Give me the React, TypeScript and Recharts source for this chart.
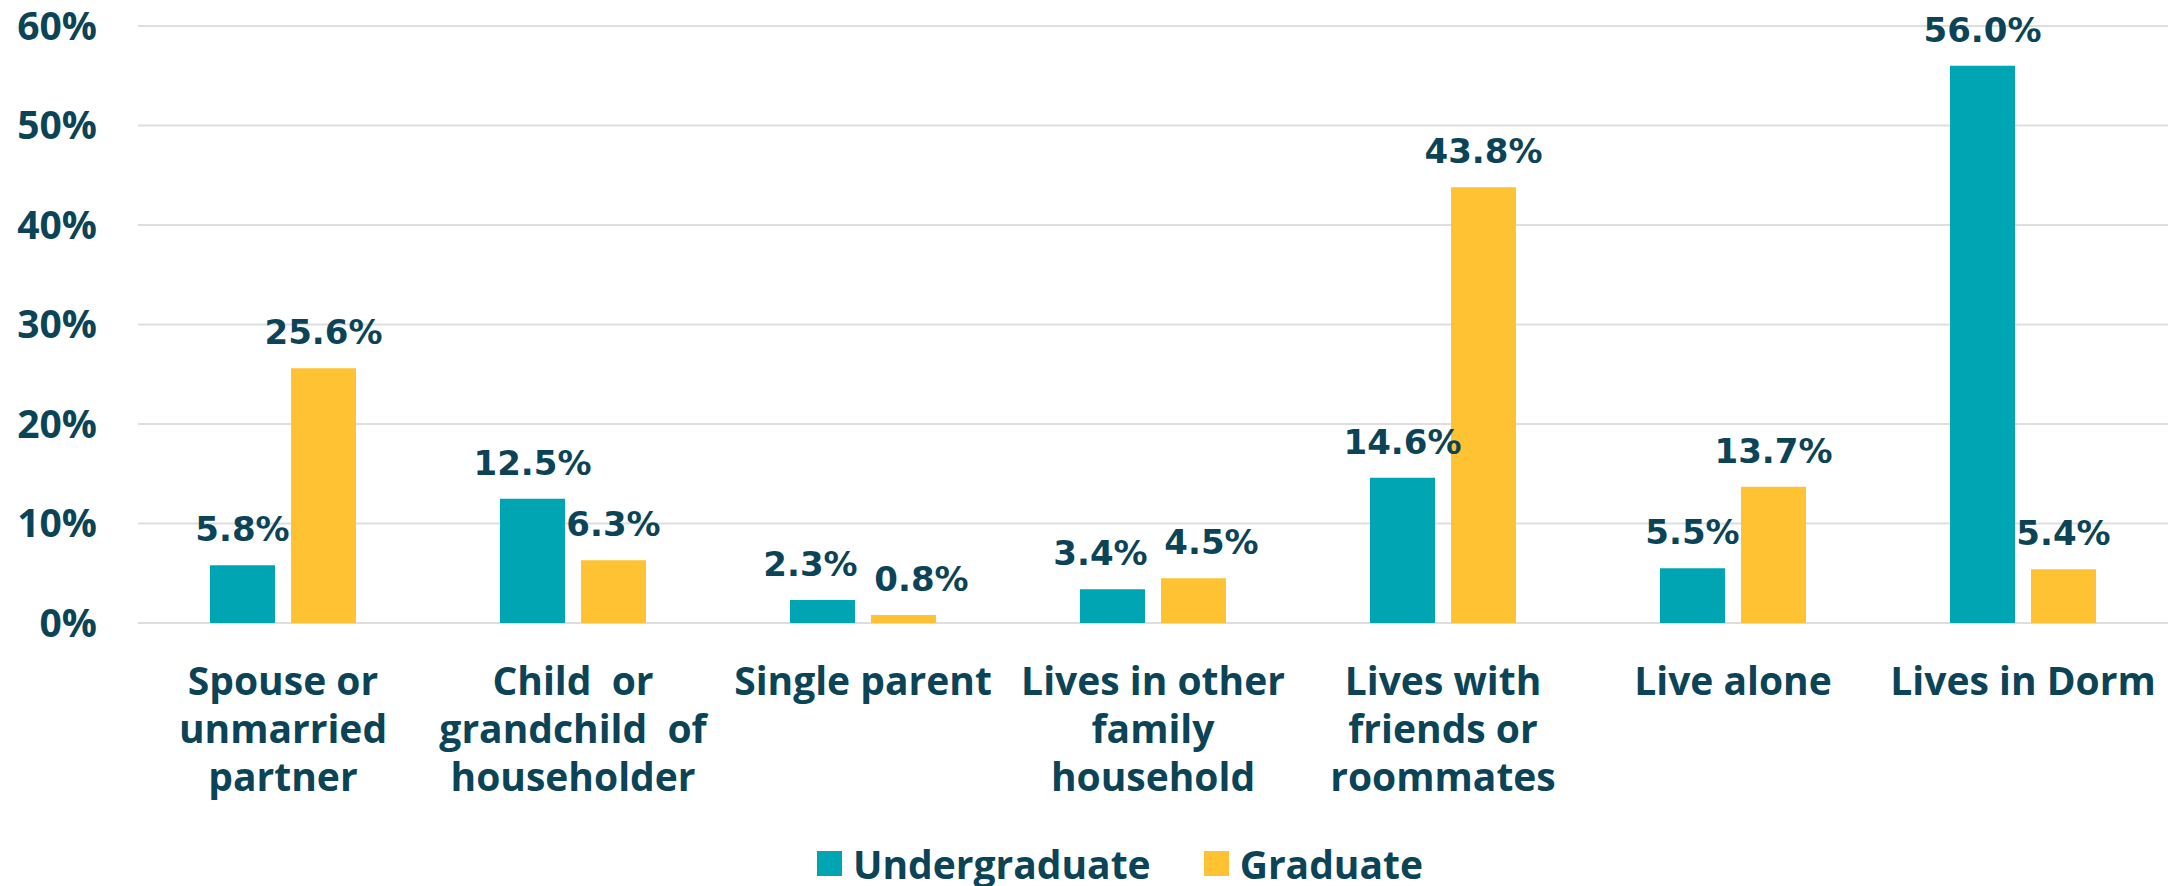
import React from "react";
import { BarChart, Bar, XAxis, YAxis, CartesianGrid, Legend, LabelList } from "recharts";

const categories = [
  "Spouse or\nunmarried\npartner",
  "Child  or\ngrandchild  of\nhouseholder",
  "Single parent",
  "Lives in other\nfamily\nhousehold",
  "Lives with\nfriends or\nroommates",
  "Live alone",
  "Lives in Dorm",
];
const undergraduate = [5.8, 12.5, 2.3, 3.4, 14.6, 5.5, 56.0];
const graduate = [25.6, 6.3, 0.8, 4.5, 43.8, 13.7, 5.4];
const yTicks = [0, 10, 20, 30, 40, 50, 60];
const seriesOrder = ["Undergraduate", "Graduate"];

const TEAL = "#00a5b4";
const GOLD = "#fec232";
const TEXT = "#0c4457";
const SANS = "'Open Sans', sans-serif";

const chartData = categories.map((name, i) => ({
  name,
  undergraduate: undergraduate[i],
  graduate: graduate[i],
}));

function CategoryTick({ x, y, payload }: any) {
  const lines = String(payload.value).split("\n");
  return (
    <text
      x={x}
      y={y}
      textAnchor="middle"
      fill={TEXT}
      fontFamily={SANS}
      fontWeight={700}
      fontSize={39}
      style={{ whiteSpace: "pre" }}
    >
      {lines.map((line, i) => (
        <tspan key={i} x={x} y={y + 72 + i * 48}>
          {line}
        </tspan>
      ))}
    </text>
  );
}

function LegendContent({ payload }: any) {
  const items = [...(payload ?? [])].sort(
    (a: any, b: any) => seriesOrder.indexOf(a.value) - seriesOrder.indexOf(b.value)
  );
  return (
    <div
      style={{
        display: "flex",
        justifyContent: "center",
        alignItems: "center",
        height: 46,
        paddingLeft: 72,
        fontFamily: SANS,
        fontWeight: 700,
        fontSize: 39,
        color: TEXT,
      }}
    >
      {items.map((entry: any, i: number) => (
        <div
          key={entry.value}
          style={{ display: "flex", alignItems: "center", marginRight: i < items.length - 1 ? 53 : 0 }}
        >
          <span style={{ width: 25, height: 25, background: entry.color, marginRight: 11 }} />
          <span>{entry.value}</span>
        </div>
      ))}
    </div>
  );
}

// value label above a bar; pushed sideways when it would collide with the neighbour's label
function BarLabel({ x, y, width, value, index, first }: any) {
  const other = first ? graduate[index] : undergraduate[index];
  const clash = Math.abs(other - Number(value)) < 3.5;
  const dx = clash ? (first ? -12 : 18) : 0;
  return (
    <text
      x={Number(x) + Number(width) / 2 + dx}
      y={Number(y) - 24}
      textAnchor="middle"
      fill={TEXT}
      fontFamily="'DejaVu Sans', sans-serif"
      fontWeight={700}
      fontSize={34}
    >
      {`${Number(value).toFixed(1)}%`}
    </text>
  );
}

export default function App() {
  return (
    <div style={{ position: "absolute", left: 0, top: 0, background: "#fff" }}>
      <BarChart
        width={2171}
        height={886}
        data={chartData}
        margin={{ top: 26, right: 3, left: 0, bottom: 0 }}
        barSize={65}
        barGap={16}
      >
        <CartesianGrid vertical={false} stroke="#dedede" strokeWidth={2} />
        <YAxis
          width={138}
          domain={[0, 60]}
          ticks={yTicks}
          tickFormatter={(v) => `${v}%`}
          axisLine={false}
          tickLine={false}
          tickSize={0}
          tickMargin={41}
          tick={{ fill: TEXT, fontFamily: SANS, fontWeight: 700, fontSize: 39 }}
        />
        <XAxis
          dataKey="name"
          height={217}
          interval={0}
          axisLine={false}
          tickLine={false}
          tickSize={0}
          tickMargin={0}
          tick={<CategoryTick />}
        />
        <Legend verticalAlign="bottom" content={<LegendContent />} />
        <Bar dataKey="undergraduate" name="Undergraduate" fill={TEAL} isAnimationActive={false}>
          <LabelList dataKey="undergraduate" content={(p: any) => <BarLabel {...p} first />} />
        </Bar>
        <Bar dataKey="graduate" name="Graduate" fill={GOLD} isAnimationActive={false}>
          <LabelList dataKey="graduate" content={(p: any) => <BarLabel {...p} first={false} />} />
        </Bar>
      </BarChart>
    </div>
  );
}
